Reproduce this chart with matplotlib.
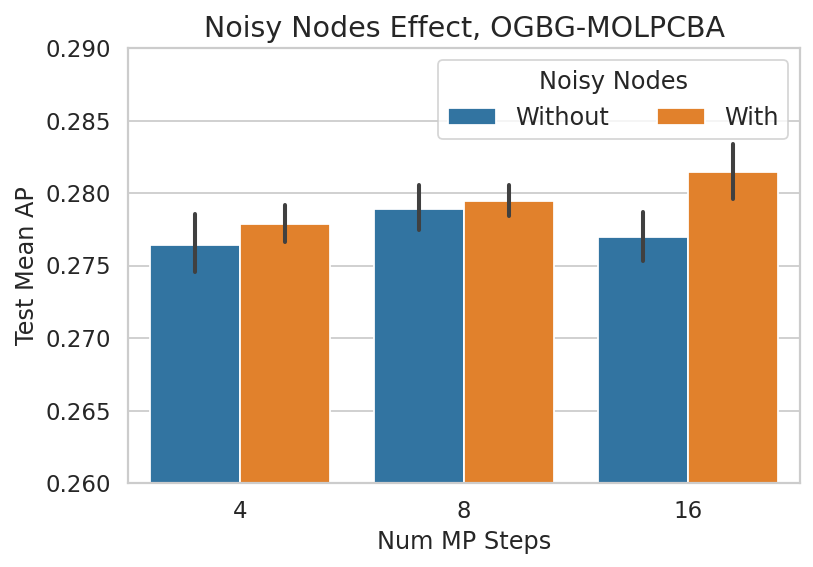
import numpy as np
import matplotlib
matplotlib.use("Agg")
import matplotlib.pyplot as plt
import seaborn as sns

steps = ["4", "8", "16"]
groups = ["Without", "With"]
means = {
    "Without": [0.27641, 0.27890, 0.27697],
    "With": [0.27786, 0.27945, 0.28145],
}
ci_low = {
    "Without": [0.27457, 0.27748, 0.27534],
    "With": [0.27663, 0.27843, 0.27962],
}
ci_high = {
    "Without": [0.27857, 0.28057, 0.27868],
    "With": [0.27919, 0.28057, 0.28337],
}
colors = {"Without": "#3274a1", "With": "#e1812c"}

sns.set_theme(style="whitegrid")

fig = plt.figure(figsize=(813 / 127, 567 / 127), dpi=127)
ax = fig.add_axes([128 / 813, 1 - 483 / 567, 672 / 813, 435 / 567])

x = np.arange(len(steps))
w = 0.4
for i, g in enumerate(groups):
    pos = x - w / 2 + i * w
    ax.bar(pos, means[g], width=w, color=colors[g], edgecolor="white",
           linewidth=1, label=g, zorder=2)
    ax.vlines(pos, ci_low[g], ci_high[g], color="#404040", linewidth=2.3,
              capstyle="round", zorder=3)

ax.set_xlim(-0.5, 2.5)
ax.set_ylim(0.260, 0.290)
yt = np.arange(0.260, 0.2901, 0.005)
ax.set_yticks(yt)
ax.set_yticklabels([f"{v:.3f}" for v in yt])
ax.set_xticks(x)
ax.set_xticklabels(steps)
ax.tick_params(labelsize=13)
ax.xaxis.grid(False)
ax.set_axisbelow(True)
ax.set_xlabel("Num MP Steps", fontsize=13.6)
ax.set_ylabel("Test Mean AP", fontsize=13.6)
ax.set_title("Noisy Nodes Effect, OGBG-MOLPCBA", fontsize=16.2)

leg = ax.legend(title="Noisy Nodes", ncol=2, loc="upper right",
                fontsize=13.6, title_fontsize=13.6)

fig.savefig("out.png", dpi=127)
